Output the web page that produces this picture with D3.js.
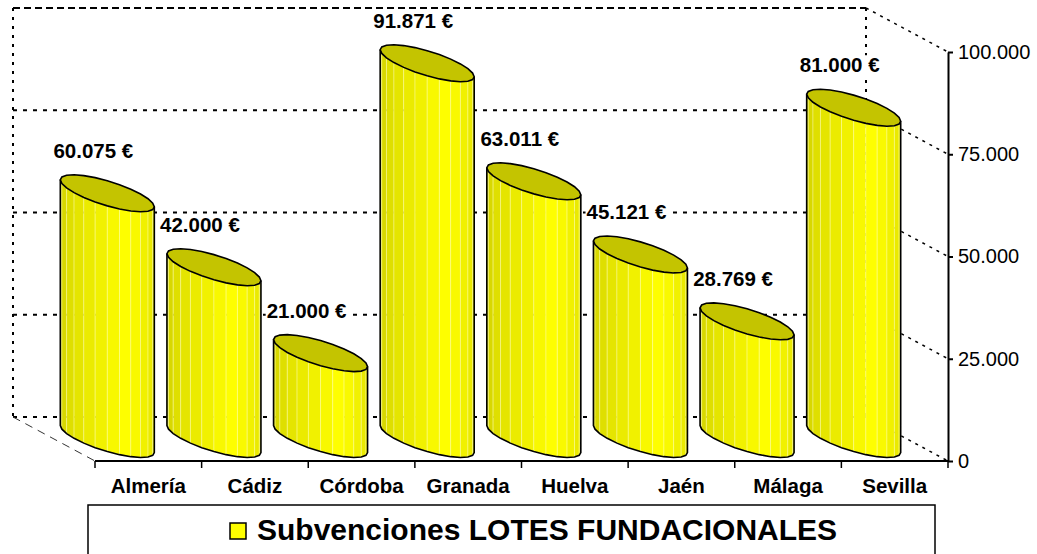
<!DOCTYPE html>
<html>
<head>
<meta charset="utf-8">
<script src="https://cdn.jsdelivr.net/npm/d3@7"></script>
<style>
  body { margin: 0; background: #fff; }
  text { font-family: "Liberation Sans", Arial, sans-serif; }
</style>
</head>
<body>
<script>
var categories = ["Almería", "Cádiz", "Córdoba", "Granada", "Huelva", "Jaén", "Málaga", "Sevilla"];
var values = [60075, 42000, 21000, 91871, 63011, 45121, 28769, 81000];
var yTicks = [0, 25000, 50000, 75000, 100000];
var seriesName = "Subvenciones LOTES FUNDACIONALES";

var w = 1037,
    h = 554,
    DX = -82,   // depth offset of the back wall
    DY = -44,
    rx = 32,    // cylinder radius across
    rv = 0.42,  // cylinder radius in depth (fraction)
    N = 12;     // facets on the visible half

var loc = d3.formatLocale({decimal: ",", thousands: ".", grouping: [3], currency: ["", " €"]});
var fmt = loc.format(",");

var x = d3.scaleBand().domain(categories).range([95, 948]);
var y = d3.scaleLinear().domain([0, 100000]).range([461, 52]);
var shade = d3.scaleLinear().domain([0, 0.65, 1]).range(["#d2d200", "#ffff00", "#e2e200"]);

var svg = d3.select("body")
            .append("svg")
            .attr("width", w)
            .attr("height", h);

// back wall + gridlines
svg.selectAll("line.grid")
    .data(yTicks)
    .enter()
    .append("line")
    .attr("x1", 95 + DX)
    .attr("x2", 948 + DX)
    .attr("y1", function(d) { return y(d) + DY; })
    .attr("y2", function(d) { return y(d) + DY; })
    .attr("stroke", "#000")
    .attr("stroke-width", 2)
    .attr("stroke-dasharray", function(d) { return d == 100000 ? "7,4" : "4,6"; });

[95 + DX, 948 + DX].forEach(function(xx) {
    svg.append("line")
        .attr("x1", xx).attr("x2", xx)
        .attr("y1", y(100000) + DY).attr("y2", y(0) + DY)
        .attr("stroke", "#000")
        .attr("stroke-width", 2)
        .attr("stroke-dasharray", "3,6");
});

// side wall diagonals
svg.selectAll("line.side")
    .data(yTicks)
    .enter()
    .append("line")
    .attr("x1", 948 + DX)
    .attr("x2", 948)
    .attr("y1", function(d) { return y(d) + DY; })
    .attr("y2", function(d) { return y(d); })
    .attr("stroke", "#000")
    .attr("stroke-width", 1.5)
    .attr("stroke-dasharray", "3,5");

// floor
svg.append("line")
    .attr("x1", 95 + DX).attr("y1", y(0) + DY)
    .attr("x2", 95).attr("y2", y(0))
    .attr("stroke", "#333")
    .attr("stroke-width", 1)
    .attr("stroke-dasharray", "8,6");

svg.append("line")
    .attr("x1", 95).attr("x2", 948)
    .attr("y1", y(0)).attr("y2", y(0))
    .attr("stroke", "#000")
    .attr("stroke-width", 2);

svg.selectAll("line.xtick")
    .data(categories.map(function(c) { return x(c); }).concat([948]))
    .enter()
    .append("line")
    .attr("x1", function(d) { return d; })
    .attr("x2", function(d) { return d; })
    .attr("y1", y(0))
    .attr("y2", y(0) + 7)
    .attr("stroke", "#000")
    .attr("stroke-width", 1.5);

// cylinders
var ta = Math.atan(DX * rv / rx);

function pt(cx, cy, t) {
    return [cx + rx * Math.cos(t) + DX * rv * Math.sin(t), cy + DY * rv * Math.sin(t)];
}

var labels = svg.append("g");

categories.forEach(function(c, i) {
    var cx = x(c) + x.bandwidth() / 2 + DX * 0.5,
        top = y(values[i]) + DY * 0.5,
        bot = y(0) + DY * 0.5,
        g = svg.append("g");

    var ts = d3.range(N + 1).map(function(k) { return ta - Math.PI + k * Math.PI / N; });

    for (var k = 0; k < N; k++) {
        var p = [pt(cx, top, ts[k]), pt(cx, top, ts[k + 1]), pt(cx, bot, ts[k + 1]), pt(cx, bot, ts[k])];
        g.append("polygon")
            .attr("points", p.join(" "))
            .attr("fill", shade(k / (N - 1)))
            .attr("stroke", "rgba(255,255,190,0.55)")
            .attr("stroke-width", 0.7);
    }

    var outline = [pt(cx, top, ts[0])]
        .concat(ts.map(function(t) { return pt(cx, bot, t); }))
        .concat([pt(cx, top, ts[N])]);
    g.append("path")
        .attr("d", d3.line()(outline))
        .attr("fill", "none")
        .attr("stroke", "#000")
        .attr("stroke-width", 1.6);

    var ell = d3.range(2 * N).map(function(k) { return pt(cx, top, ta + k * Math.PI / N); });
    g.append("polygon")
        .attr("points", ell.join(" "))
        .attr("fill", "#c4c400")
        .attr("stroke", "#000")
        .attr("stroke-width", 1.6);

    // value label with white box (hides the gridline like the original)
    var lg = labels.append("g");
    var t = lg.append("text")
        .attr("x", cx - 14)
        .attr("y", top + DY * rv - 17)
        .attr("text-anchor", "middle")
        .attr("font-size", "20.5px")
        .attr("font-weight", "bold")
        .text(fmt(values[i]) + " €");
    var bb = t.node().getBBox();
    lg.insert("rect", "text")
        .attr("x", bb.x - 1)
        .attr("y", bb.y + 2)
        .attr("width", bb.width + 2)
        .attr("height", bb.height - 3)
        .attr("fill", "#fff");
});
labels.raise();

// right axis
var axis = svg.append("g")
    .attr("transform", "translate(948,0)")
    .call(d3.axisRight(y)
        .tickValues(yTicks)
        .tickSize(5)
        .tickSizeOuter(0)
        .tickPadding(5)
        .tickFormat(fmt));
axis.select(".domain").attr("stroke-width", 2);
axis.selectAll(".tick line").attr("stroke-width", 2);
axis.selectAll("text")
    .attr("font-size", "20px")
    .attr("font-family", "'Liberation Sans', Arial, sans-serif")
    .attr("fill", "#000");

// category labels
svg.selectAll("text.cat")
    .data(categories)
    .enter()
    .append("text")
    .attr("x", function(d) { return x(d) + x.bandwidth() / 2; })
    .attr("y", 493)
    .attr("text-anchor", "middle")
    .attr("font-size", "20.5px")
    .attr("font-weight", "bold")
    .text(function(d) { return d; });

// legend
svg.append("rect")
    .attr("x", 88).attr("y", 505)
    .attr("width", 847).attr("height", 70)
    .attr("fill", "#fff")
    .attr("stroke", "#000")
    .attr("stroke-width", 1.5);
svg.append("rect")
    .attr("x", 230).attr("y", 523)
    .attr("width", 16).attr("height", 16)
    .attr("fill", "#ffff00")
    .attr("stroke", "#000")
    .attr("stroke-width", 1.5);
svg.append("text")
    .attr("x", 257)
    .attr("y", 540)
    .attr("font-size", "30px")
    .attr("font-weight", "bold")
    .text(seriesName);
</script>
</body>
</html>
